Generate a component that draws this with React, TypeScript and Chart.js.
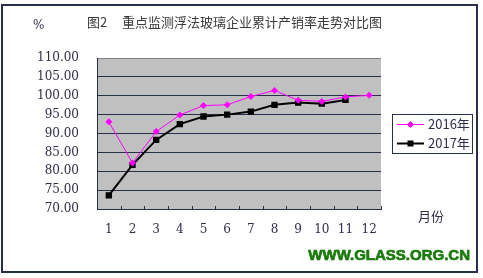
import { useEffect, useRef } from "react";
import { Chart, registerables } from "chart.js";

Chart.register(...registerables);

const months = ["1", "2", "3", "4", "5", "6", "7", "8", "9", "10", "11", "12"];
const series2016 = [93.1, 82.2, 90.5, 94.9, 97.4, 97.6, 99.8, 101.4, 98.8, 98.5, 99.7, 100.1];
const series2017 = [73.6, 81.7, 88.3, 92.5, 94.5, 95.0, 95.8, 97.6, 98.2, 97.9, 98.9, null];
const seriesNames = ["2016年", "2017年"];
const yMin = 70;
const yMax = 110;
const yStep = 5;
const titleLead = "图2";
const titleMain = "重点监测浮法玻璃企业累计产销率走势对比图";
const unitLabel = "%";
const xAxisTitle = "月份";
const sourceText = "WWW.GLASS.ORG.CN";

const NAVY = "#27304a";
const TEXT = "#2e2e4e";
const PINK = "#ff00ff";
const CJK = '"Noto Sans CJK SC", sans-serif';

function drawDiamond(ctx: CanvasRenderingContext2D, x: number, y: number, r: number, color: string) {
  ctx.beginPath();
  ctx.moveTo(x - r, y);
  ctx.lineTo(x, y - r);
  ctx.lineTo(x + r, y);
  ctx.lineTo(x, y + r);
  ctx.closePath();
  ctx.fillStyle = color;
  ctx.fill();
}

const decorPlugin = {
  id: "decor",
  beforeDraw(chart: any) {
    const { ctx, chartArea } = chart;
    ctx.save();
    ctx.fillStyle = "#ffffff";
    ctx.fillRect(0, 0, chart.width, chart.height);
    ctx.fillStyle = "#c0c0c0";
    ctx.fillRect(chartArea.left, chartArea.top, chartArea.right - chartArea.left, chartArea.bottom - chartArea.top);
    ctx.restore();
  },
  afterDraw(chart: any) {
    const { ctx, chartArea } = chart;
    ctx.save();
    // x tick marks (inside, at category boundaries)
    ctx.strokeStyle = NAVY;
    ctx.lineWidth = 1;
    const n = months.length;
    const cw = (chartArea.right - chartArea.left) / n;
    for (let i = 1; i <= n; i++) {
      const x = Math.round(chartArea.left + i * cw) + 0.5;
      ctx.beginPath();
      ctx.moveTo(x, chartArea.bottom);
      ctx.lineTo(x, chartArea.bottom - 3);
      ctx.stroke();
    }
    // outer frame
    ctx.strokeStyle = NAVY;
    ctx.lineWidth = 2;
    ctx.strokeRect(2, 5, 475, 267);
    // title
    ctx.fillStyle = "#3a3a3a";
    ctx.font = `13px ${CJK}`;
    ctx.textBaseline = "middle";
    ctx.textAlign = "left";
    ctx.fillText(titleLead, 87, 22);
    ctx.fillText(titleMain, 122, 22);
    // unit
    ctx.fillStyle = TEXT;
    ctx.font = '12px "DejaVu Serif", serif';
    ctx.fillText(unitLabel, 33, 26);
    // x axis title
    ctx.font = `13px ${CJK}`;
    ctx.fillText(xAxisTitle, 418, 216);
    // source
    ctx.fillStyle = "#1a7a0c";
    ctx.strokeStyle = "#1a7a0c";
    ctx.lineWidth = 0.7;
    ctx.font = 'bold 15px "Liberation Sans", Arial, sans-serif';
    ctx.textAlign = "right";
    ctx.fillText(sourceText, 470, 256);
    ctx.strokeText(sourceText, 470, 256);
    // legend
    ctx.fillStyle = "#ffffff";
    ctx.fillRect(392.5, 114.5, 80, 39);
    ctx.strokeStyle = NAVY;
    ctx.lineWidth = 1;
    ctx.strokeRect(392.5, 114.5, 80, 39);
    // entry 1
    ctx.strokeStyle = PINK;
    ctx.lineWidth = 1;
    ctx.beginPath();
    ctx.moveTo(397, 124.5);
    ctx.lineTo(424, 124.5);
    ctx.stroke();
    drawDiamond(ctx, 410.5, 124.5, 3.5, PINK);
    // entry 2
    ctx.strokeStyle = "#000000";
    ctx.lineWidth = 2;
    ctx.beginPath();
    ctx.moveTo(397, 143.5);
    ctx.lineTo(424, 143.5);
    ctx.stroke();
    ctx.fillStyle = "#000000";
    ctx.fillRect(407.5, 140.5, 6, 6);
    ctx.fillStyle = TEXT;
    ctx.font = `13px ${CJK}`;
    ctx.textAlign = "left";
    ctx.fillText(seriesNames[0], 428, 124);
    ctx.fillText(seriesNames[1], 428, 143.5);
    ctx.restore();
  },
};

export default function App() {
  const ref = useRef<HTMLCanvasElement | null>(null);
  useEffect(() => {
    document.body.style.margin = "0";
    const canvas = ref.current!;
    const chart = new Chart(canvas, {
      type: "line",
      data: {
        labels: months,
        datasets: [
          {
            label: seriesNames[0],
            data: series2016,
            borderColor: PINK,
            backgroundColor: PINK,
            borderWidth: 1,
            pointStyle: "rectRot",
            pointRadius: 3.5,
            pointBorderWidth: 0,
            tension: 0,
          },
          {
            label: seriesNames[1],
            data: series2017,
            borderColor: "#000000",
            backgroundColor: "#000000",
            borderWidth: 2,
            pointStyle: "rect",
            pointRadius: 4.5,
            pointBorderWidth: 0,
            tension: 0,
          },
        ],
      },
      options: {
        responsive: false,
        animation: false,
        devicePixelRatio: 1,
        layout: { padding: { top: 58, right: 102, left: 0, bottom: 0 } },
        plugins: { legend: { display: false }, tooltip: { enabled: false }, title: { display: false } },
        scales: {
          x: {
            type: "category",
            offset: true,
            afterFit: (s: any) => {
              s.height = 69;
            },
            grid: { display: false, drawTicks: false },
            border: { display: true, color: NAVY, width: 1 },
            ticks: {
              padding: 14,
              color: TEXT,
              font: { family: '"DejaVu Serif", serif', size: 12 },
              maxRotation: 0,
              autoSkip: false,
            },
          },
          y: {
            min: yMin,
            max: yMax,
            afterFit: (s: any) => {
              s.width = 97;
            },
            grid: {
              drawTicks: false,
              lineWidth: 1,
              color: (c: any) => (c.tick && c.tick.value === yMax ? "#808080" : NAVY),
            },
            border: { display: true, color: NAVY, width: 1 },
            ticks: {
              stepSize: yStep,
              padding: 18,
              color: TEXT,
              font: { family: '"DejaVu Serif", serif', size: 12 },
              callback: (v: any) => Number(v).toFixed(2),
            },
          },
        },
      },
      plugins: [decorPlugin],
    });
    return () => chart.destroy();
  }, []);
  return <canvas ref={ref} width={483} height={278} style={{ display: "block", width: 483, height: 278 }} />;
}
